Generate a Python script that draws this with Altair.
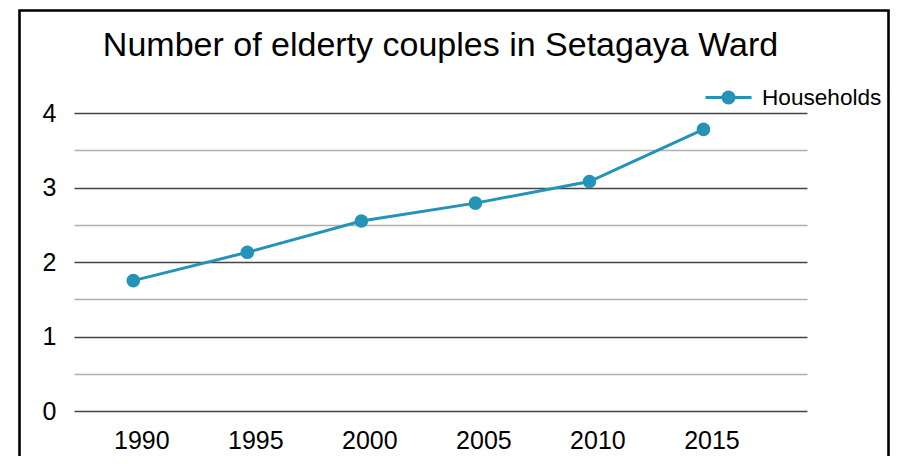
import altair as alt
import pandas as pd

years = [1990, 1995, 2000, 2005, 2010, 2015]
households = [1.75, 2.13, 2.55, 2.79, 3.08, 3.78]
series = ["Households"] * len(years)
y_ticks = [0, 0.5, 1, 1.5, 2, 2.5, 3, 3.5, 4]

df = pd.DataFrame({"year": years, "value": households, "series": series})

COLOR = "#2592b7"
FONT = "Liberation Sans"

legend_path = "M-1,0L1,0M-0.24,0A0.24,0.24,0,1,1,0.24,0A0.24,0.24,0,1,1,-0.24,0Z"

x = alt.X(
    "year:Q",
    scale=alt.Scale(domain=[1987.4, 2019.54], nice=False, zero=False),
    axis=alt.Axis(values=years, format="d", title=None, grid=False, domain=False,
                  ticks=False, labelFontSize=25, labelPadding=17, labelColor="black",
                  labelFont=FONT, labelOffset=8),
)
y = alt.Y(
    "value:Q",
    scale=alt.Scale(domain=[0, 4], nice=False),
    axis=alt.Axis(values=y_ticks, title=None, domain=False, ticks=False,
                  labelFontSize=25, labelPadding=18, labelColor="black", labelFont=FONT,
                  labelExpr="datum.value % 1 === 0 ? format(datum.value, 'd') : ''",
                  gridColor={"condition": {"test": "datum.value % 1 === 0", "value": "#444444"},
                             "value": "#b0b0b0"},
                  gridWidth=1.4),
)

line = alt.Chart(df).mark_line(
    strokeWidth=3,
    point=alt.OverlayMarkDef(size=185, filled=True, opacity=1),
).encode(
    x=x,
    y=y,
    color=alt.Color(
        "series:N",
        scale=alt.Scale(range=[COLOR]),
        legend=alt.Legend(title=None, orient="none", legendX=630, legendY=-40,
                          symbolType=legend_path, symbolSize=2116, symbolStrokeWidth=3,
                          symbolFillColor=COLOR, symbolStrokeColor=COLOR,
                          labelFontSize=22.6, labelFont=FONT, labelColor="black", labelOffset=9),
    ),
)

border = alt.Chart(pd.DataFrame({"b": [0]})).mark_rect(
    filled=False, stroke="black", strokeWidth=2.6, clip=False
).encode(
    x=alt.value(-54.5), x2=alt.value(814.5), y=alt.value(-102.5), y2=alt.value(400)
)

chart = alt.layer(border, line).properties(
    width=733,
    height=298,
    padding={"left": 66, "top": 105, "right": 83, "bottom": 45},
    autosize=alt.AutoSizeParams(type="none"),
    title=alt.Title("Number of elderty couples in Setagaya Ward", fontSize=34, font=FONT,
                    fontWeight="normal", color="black", anchor="middle", frame="group",
                    baseline="alphabetic", offset=-81),
).configure_view(stroke=None)

chart.save("out.html", embed_options={"renderer": "svg", "actions": False})
